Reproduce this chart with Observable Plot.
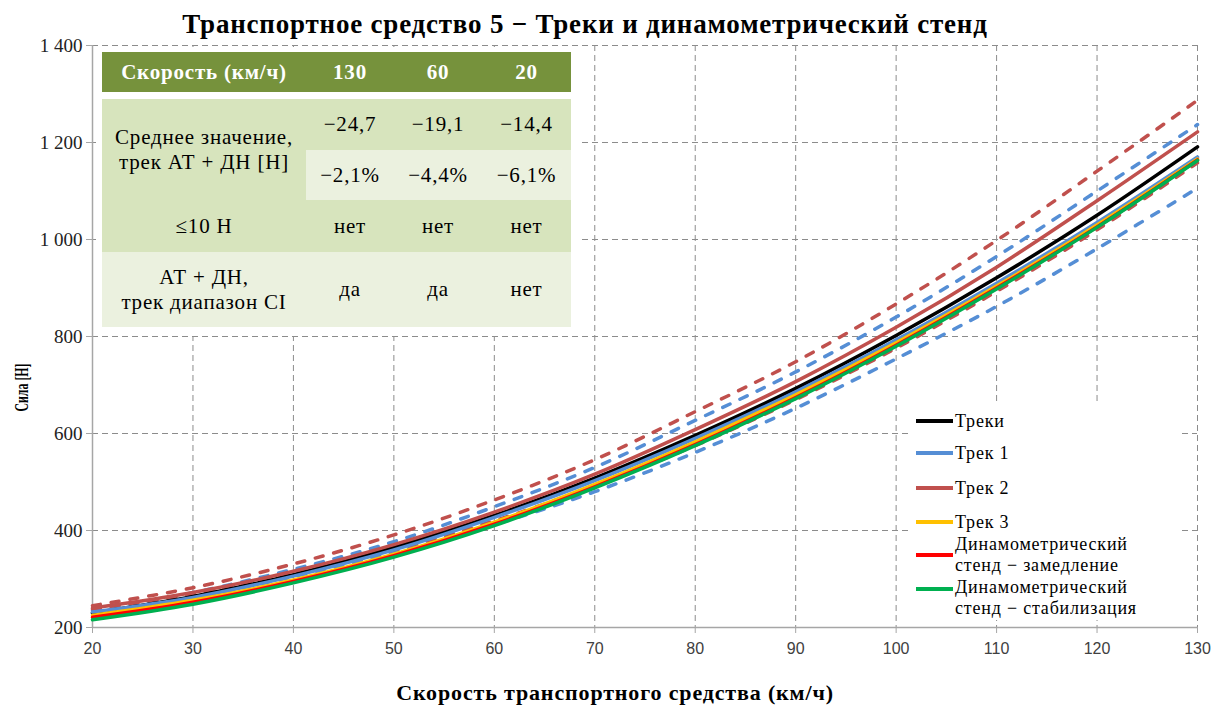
<!DOCTYPE html>
<html>
<head>
<meta charset="utf-8">
<script src="https://cdn.jsdelivr.net/npm/d3@7"></script>
<script src="https://cdn.jsdelivr.net/npm/@observablehq/plot@0.6"></script>
<style>
  html, body { margin: 0; padding: 0; background: #fff; }
  #page { position: relative; width: 1215px; height: 705px; overflow: hidden; color: #000; }
  #page div { font-family: "Liberation Serif", "Times New Roman", "DejaVu Serif", serif; }
  #title { position: absolute; left: 0; top: 7px; width: 1170px; text-align: center; font-size: 27px; font-weight: bold; line-height: 34px; letter-spacing: 0.8px; }
  #chart { position: absolute; left: 0; top: 30px; }
  #xlabel { position: absolute; left: 0; top: 679px; width: 1230px; text-align: center; font-size: 22px; font-weight: bold; line-height: 28px; letter-spacing: 0.85px; }
  #tablebg { position: absolute; left: 96px; top: 47px; width: 486px; height: 289px; background: #fff; }
  #stats { position: absolute; left: 102px; top: 52px; width: 469px; display: grid;
           grid-template-columns: 204px 88px 88px 89px; grid-template-rows: 40px 7px 51px 50px 52px 75px;
           font-size: 21px; line-height: 25px; letter-spacing: 0.8px; }
  #stats div { display: flex; align-items: center; justify-content: center; text-align: center; }
  #stats .head { background: #76923c; color: #fff; font-weight: bold; font-size: 21px; }
  #stats .dark { background: #d7e4bd; }
  #stats .light { background: #ebf1df; }
  #legendbg { position: absolute; left: 908px; top: 405px; width: 270px; height: 215px; background: #fff; }
  .lg-swatch { position: absolute; left: 916px; width: 37px; height: 4px; }
  .lg-text { position: absolute; left: 955px; font-size: 18px; line-height: 21px; white-space: nowrap; letter-spacing: 0.8px; }
</style>
</head>
<body>
<div id="page">
  <div id="title">Транспортное средство 5 − Треки и динамометрический стенд</div>
  <div id="chart"></div>
  <div id="tablebg"></div>
  <div id="stats"></div>
  <div id="legendbg"></div>
  <div id="legend"></div>
  <div id="xlabel">Скорость транспортного средства (км/ч)</div>
</div>
<script>
// Road-load force curves, vehicle 5 (force in N against speed in km/h)
const speeds      = [20, 30, 40, 50, 60, 70, 80, 90, 100, 110, 120, 130];
const tracksMean  = [230, 264, 309, 365, 431, 508, 596, 693, 802, 921, 1050, 1191];
const track1      = [232, 262, 306, 360, 427, 503, 590, 686, 793, 910, 1035, 1170];
const track2      = [240, 272, 316, 371, 438, 516, 608, 707, 819, 943, 1080, 1222];
const track3      = [225, 256, 298, 351, 417, 495, 583, 680, 787, 904, 1030, 1166];
const dynoCoast   = [221, 252, 295, 348, 413, 490, 577, 674, 782, 900, 1026, 1164];
const dynoSteady  = [216, 248, 292, 345, 410, 488, 575, 672, 780, 898, 1025, 1163];
// confidence bands of tracks 1 and 2
const track1Upper = [235, 272, 320, 377, 449, 530, 627, 727, 840, 965, 1100, 1237];
const track1Lower = [230, 262, 305, 355, 412, 480, 561, 652, 754, 862, 981, 1106];
const track2Upper = [245, 282, 331, 391, 463, 546, 645, 748, 867, 998, 1141, 1287];
const track2Lower = [238, 268, 312, 360, 420, 492, 575, 670, 776, 893, 1020, 1158];

const xTicks = [20, 30, 40, 50, 60, 70, 80, 90, 100, 110, 120, 130];
const yTicks = [200, 400, 600, 800, 1000, 1200, 1400];
const yLabel = "Сила [Н]";

// Summary table
const tableHeader   = "Скорость (км/ч)";
const tableSpeeds   = ["130", "60", "20"];
const meanLabel     = "Среднее значение,<br>трек АТ + ДН [Н]";
const meanDiffN     = ["−24,7", "−19,1", "−14,4"];
const meanDiffPct   = ["−2,1%", "−4,4%", "−6,1%"];
const within10Label = "≤10 Н";
const within10N     = ["нет", "нет", "нет"];
const withinCILabel = "АТ + ДН,<br>трек диапазон CI";
const withinCI      = ["да", "да", "нет"];

const solidSeries = [
  {name: "Треки", values: tracksMean, color: "#000000"},
  {name: "Трек 1", values: track1, color: "#558ed5"},
  {name: "Трек 2", values: track2, color: "#c0504d"},
  {name: "Трек 3", values: track3, color: "#ffc000"},
  {name: "Динамометрический<br>стенд − замедление", values: dynoCoast, color: "#ff0000"},
  {name: "Динамометрический<br>стенд − стабилизация", values: dynoSteady, color: "#00b050"}
];
const dashedSeries = [
  {name: "Трек 1 верх", values: track1Upper, color: "#558ed5"},
  {name: "Трек 1 низ", values: track1Lower, color: "#558ed5"},
  {name: "Трек 2 верх", values: track2Upper, color: "#c0504d"},
  {name: "Трек 2 низ", values: track2Lower, color: "#c0504d"}
];

const toRows = (list) => list.flatMap(s => s.values.map((v, i) => ({series: s.name, color: s.color, speed: speeds[i], force: v})));
const solidRows = toRows(solidSeries);
const dashedRows = toRows(dashedSeries);

const fmtForce = d => d >= 1000 ? `${Math.floor(d / 1000)} ${String(d % 1000).padStart(3, "0")}` : String(d);

const chart = Plot.plot({
  width: 1215,
  height: 675,
  marginTop: 15,
  marginLeft: 92,
  marginRight: 18,
  marginBottom: 78,
  x: {domain: [20, 130]},
  y: {domain: [200, 1400]},
  marks: [
    Plot.gridX(xTicks.slice(1), {stroke: "#8c8c8c", strokeOpacity: 1, strokeWidth: 1, strokeDasharray: "6,4"}),
    Plot.gridY(yTicks.slice(1), {stroke: "#8c8c8c", strokeOpacity: 1, strokeWidth: 1, strokeDasharray: "6,4"}),
    Plot.ruleX([20], {stroke: "#a6a6a6", strokeWidth: 1.5}),
    Plot.ruleY([200], {stroke: "#a6a6a6", strokeWidth: 1.5}),
    Plot.axisX({ticks: xTicks, tickSize: 6, tickPadding: 9, stroke: "#a6a6a6", label: null, tickFormat: d => String(d)}),
    Plot.axisY({ticks: yTicks, tickSize: 6, tickPadding: 4, stroke: "#a6a6a6", label: null, tickFormat: fmtForce}),
    Plot.text([yLabel], {text: d => d, frameAnchor: "left", textAnchor: "middle", dx: -70, dy: 51, rotate: -90, fontSize: 18, fontWeight: "bold", fill: "#000"}),
    Plot.line(dashedRows, {x: "speed", y: "force", z: "series", stroke: "color", strokeWidth: 3.5, strokeDasharray: "8,11", strokeLinecap: "round", curve: "catmull-rom"}),
    Plot.line(solidRows, {x: "speed", y: "force", z: "series", stroke: "color", strokeWidth: 3.5, curve: "catmull-rom"})
  ]
});
document.getElementById("chart").appendChild(chart);

// tick and axis label styling
chart.querySelectorAll('[aria-label="x-axis tick label"] text').forEach(t => {
  t.style.fontFamily = '"Liberation Sans", Arial, sans-serif';
  t.style.fontSize = "16px";
  t.setAttribute("fill", "#404040");
});
chart.querySelectorAll('[aria-label="y-axis tick label"] text').forEach(t => {
  t.style.fontFamily = '"Liberation Serif", "Times New Roman", serif';
  t.style.fontSize = "19px";
  t.setAttribute("fill", "#222");
});
chart.querySelectorAll('[aria-label="text"] text').forEach(t => {
  t.style.fontFamily = '"Liberation Serif", "Times New Roman", serif';
  t.style.fontWeight = "bold";
  t.setAttribute("textLength", "48");
  t.setAttribute("lengthAdjust", "spacingAndGlyphs");
});

// summary table cells
const stats = document.getElementById("stats");
function cell(html, cls, area) {
  const d = document.createElement("div");
  d.innerHTML = html;
  d.className = cls;
  d.style.gridArea = area;
  stats.appendChild(d);
}
cell(tableHeader, "head", "1 / 1 / 2 / 2");
tableSpeeds.forEach((s, i) => cell(s, "head", `1 / ${i + 2} / 2 / ${i + 3}`));
cell(meanLabel, "dark", "3 / 1 / 5 / 2");
meanDiffN.forEach((s, i) => cell(s, "dark", `3 / ${i + 2} / 4 / ${i + 3}`));
meanDiffPct.forEach((s, i) => cell(s, "light", `4 / ${i + 2} / 5 / ${i + 3}`));
cell(within10Label, "dark", "5 / 1 / 6 / 2");
within10N.forEach((s, i) => cell(s, "dark", `5 / ${i + 2} / 6 / ${i + 3}`));
cell(withinCILabel, "light", "6 / 1 / 7 / 2");
withinCI.forEach((s, i) => cell(s, "light", `6 / ${i + 2} / 7 / ${i + 3}`));

// legend: swatch centre and text-block top for each entry
const legend = document.getElementById("legend");
const legendSwatchY = [421, 453, 488, 522, 555, 589];
const legendTextTop = [411, 443, 478, 512, 534, 577];
solidSeries.forEach((s, i) => {
  const sw = document.createElement("div");
  sw.className = "lg-swatch";
  sw.style.top = (legendSwatchY[i] - 2) + "px";
  sw.style.background = s.color;
  legend.appendChild(sw);
  const tx = document.createElement("div");
  tx.className = "lg-text";
  tx.innerHTML = s.name;
  tx.style.top = legendTextTop[i] + "px";
  legend.appendChild(tx);
});
</script>
</body>
</html>
